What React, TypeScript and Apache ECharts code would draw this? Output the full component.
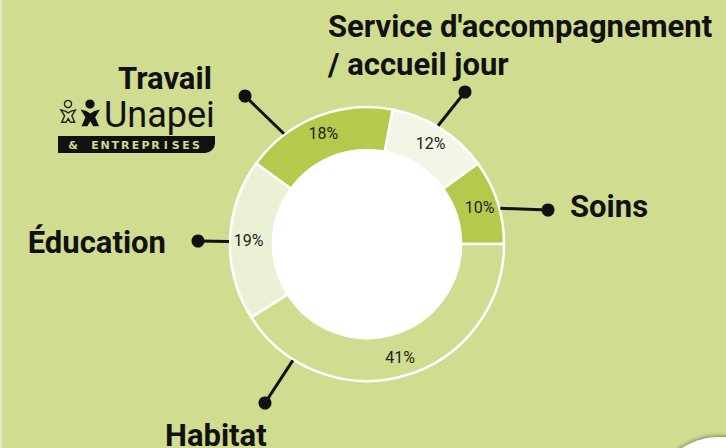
import React, { useEffect, useRef } from "react";
import * as echarts from "echarts";

// ---- data ----
const categories = ["Soins", "Service d'accompagnement\n/ accueil jour", "Travail", "Éducation", "Habitat"];
const shares = [10, 12, 18, 19, 41];
const sliceColors = ["#b3ca4c", "#f3f6e7", "#b3ca4c", "#ebf1d4", "#d0dc8f"];

// ---- callout layout (annotation styling, not data) ----
const calloutAnchorAngle = [15, 59, 127, 179, 237.5];
const calloutDot = [
  [548, 210],
  [465, 92],
  [245, 96],
  [198, 241],
  [265, 403],
];
const calloutText = [
  { x: 570, y: 206, align: "left" },
  { x: 328, y: 45, align: "left" },
  { x: 118, y: 78, align: "left" },
  { x: 166, y: 242, align: "right" },
  { x: 165, y: 435, align: "left" },
];

const BG = "#d0dc8f";
const CX = 367;
const CY = 244;
const R_IN = 94;
const R_OUT = 137;

export default function App() {
  const ref = useRef<HTMLDivElement>(null);
  useEffect(() => {
    document.body.style.margin = "0";
    const chart = echarts.init(ref.current!, undefined, { renderer: "svg" });

    const graphics: any[] = [];
    graphics.push({ type: "rect", shape: { x: 0, y: 0, width: 2, height: 448 }, style: { fill: "#e4ebcb" }, silent: true });
    graphics.push({
      type: "circle",
      shape: { cx: 720, cy: 508, r: 71 },
      style: { fill: "#ffffff", shadowBlur: 4, shadowColor: "rgba(0,0,0,0.45)", shadowOffsetY: -1 },
      silent: true,
    });

    categories.forEach((name, i) => {
      const a = (calloutAnchorAngle[i] * Math.PI) / 180;
      const ax = CX + (R_OUT + 1) * Math.cos(a);
      const ay = CY - (R_OUT + 1) * Math.sin(a);
      const [dx, dy] = calloutDot[i];
      graphics.push({
        type: "line",
        shape: { x1: ax, y1: ay, x2: dx, y2: dy },
        style: { stroke: "#111", lineWidth: 3 },
        z: 10,
      });
      graphics.push({
        type: "circle",
        shape: { cx: dx, cy: dy, r: 6.5 },
        style: { fill: "#111" },
        z: 10,
      });
      const t = calloutText[i];
      graphics.push({
        type: "text",
        x: t.x,
        y: t.y,
        style: {
          text: name,
          fill: "#111",
          font: "bold 31px Roboto",
          align: t.align,
          verticalAlign: "middle",
          lineHeight: 38,
        },
        z: 10,
      });
    });

    // Unapei logo
    const fig = (ox: number, oy: number, s: number) => [
      [ox + 0 * s, oy + 0 * s],
      [ox + 6 * s, oy + 1.5 * s],
      [ox + 10 * s, oy + 4 * s],
      [ox + 14 * s, oy + 1.5 * s],
      [ox + 20 * s, oy + 0 * s],
      [ox + 15 * s, oy + 8 * s],
      [ox + 19 * s, oy + 17 * s],
      [ox + 13 * s, oy + 17 * s],
      [ox + 10 * s, oy + 12 * s],
      [ox + 7 * s, oy + 17 * s],
      [ox + 1 * s, oy + 17 * s],
      [ox + 5 * s, oy + 8 * s],
    ];
    graphics.push({ type: "circle", shape: { cx: 68, cy: 104, r: 3.6 }, style: { fill: "none", stroke: "#222", lineWidth: 1.4 } });
    graphics.push({ type: "polygon", shape: { points: fig(61, 110, 0.72) }, style: { fill: "none", stroke: "#222", lineWidth: 1.4 } });
    graphics.push({ type: "circle", shape: { cx: 90, cy: 104, r: 4.6 }, style: { fill: "#111" } });
    graphics.push({ type: "polygon", shape: { points: fig(80.5, 109.5, 0.98) }, style: { fill: "#111" } });
    graphics.push({
      type: "text",
      x: 104,
      y: 115,
      style: { text: "Unapei", fill: "#111", font: "normal 36px Roboto", align: "left", verticalAlign: "middle" },
    });
    graphics.push({
      type: "rect",
      shape: { x: 58, y: 136, width: 157, height: 17, r: [0, 0, 10, 0] },
      style: { fill: "#111" },
    });
    const banner = "&ENTREPRISES".split("");
    banner.forEach((ch, i) => {
      const x = i === 0 ? 73 : 95 + (i - 1) * 10.1;
      graphics.push({
        type: "text",
        x,
        y: 145,
        style: { text: ch, fill: BG, font: "bold 11px 'DejaVu Sans'", align: "center", verticalAlign: "middle" },
      });
    });

    chart.setOption({
      animation: false,
      backgroundColor: BG,
      series: [
        {
          type: "pie",
          silent: true,
          center: [CX, CY],
          radius: [0, R_IN],
          data: [{ value: 1, itemStyle: { color: "#ffffff" } }],
          label: { show: false },
          labelLine: { show: false },
          z: 1,
        },
        {
          type: "pie",
          center: [CX, CY],
          radius: [R_IN, R_OUT],
          startAngle: 0,
          clockwise: false,
          avoidLabelOverlap: false,
          itemStyle: { borderColor: "#ffffff", borderWidth: 2.5 },
          data: categories.map((name, i) => ({ name, value: shares[i], itemStyle: { color: sliceColors[i] } })),
          label: {
            show: true,
            position: "inside",
            formatter: "{c}%",
            fontFamily: "Roboto",
            fontSize: 16,
            color: "#222",
          },
          labelLine: { show: false },
          z: 2,
        },
      ],
      graphic: graphics,
    });
    return () => chart.dispose();
  }, []);
  return <div ref={ref} style={{ width: 726, height: 448 }} />;
}
